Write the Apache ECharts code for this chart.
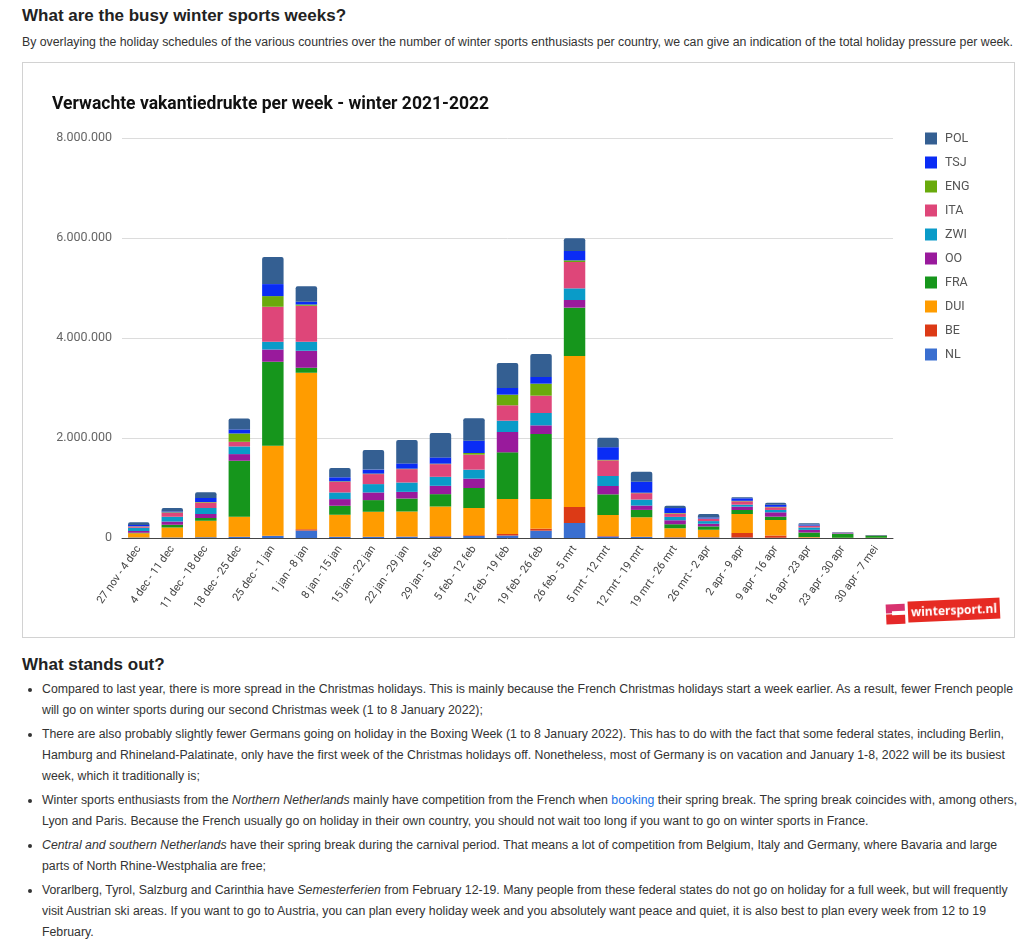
<!DOCTYPE html>
<html>
<head>
<meta charset="utf-8">
<script src="https://cdn.jsdelivr.net/npm/echarts@6/dist/echarts.min.js"></script>
<style>
  html, body { margin:0; padding:0; background:#fff; }
  body { width:1024px; height:949px; position:relative; overflow:hidden; font-family:"Liberation Sans", Arial, sans-serif; color:#333; }
  .h { position:absolute; left:22px; font-size:17px; font-weight:bold; color:#222; white-space:nowrap; line-height:20px; }
  .p { position:absolute; left:22px; font-size:12.3px; color:#333; white-space:nowrap; line-height:16px; }
  #box { position:absolute; left:22px; top:62px; width:993px; height:576px; box-sizing:border-box; border:1px solid #d2d2d2; background:#fff; }
  #chart { position:absolute; left:0; top:0; width:991px; height:574px; }
  ul { position:absolute; left:22px; top:679px; margin:0; padding:0 0 0 20px; font-size:12.3px; line-height:21px; color:#333; white-space:nowrap; }
  li { margin:0 0 3px 0; }
  a { color:#1a73e8; text-decoration:none; }
  #logo { position:absolute; left:885px; top:599px; width:118px; height:26px; transform:rotate(-2.5deg); }
  #logo .i1 { position:absolute; left:1px; top:3px; width:19px; height:9px; background:#d8336f; }
  #logo .i2 { position:absolute; left:1px; top:13px; width:19px; height:10px; background:#e5282a; }
  #logo .i3 { position:absolute; left:7px; top:10px; width:13px; height:4px; background:#fff; }
  #logo .t { position:absolute; left:23px; top:1px; width:92px; height:21px; background:#e62a22; color:#fff; font-family:"Open Sans", sans-serif; font-weight:bold; font-size:12px; line-height:21px; text-align:center; }
</style>
</head>
<body>
<div class="h" style="top:6px;">What are the busy winter sports weeks?</div>
<div class="p" style="top:34px;">By overlaying the holiday schedules of the various countries over the number of winter sports enthusiasts per country, we can give an indication of the total holiday pressure per week.</div>
<div id="box"><div id="chart"></div></div>
<div id="logo"><div class="i1"></div><div class="i2"></div><div class="i3"></div><div class="t">wintersport.nl</div></div>
<div class="h" style="top:655px;">What stands out?</div>
<ul>
<li>Compared to last year, there is more spread in the Christmas holidays. This is mainly because the French Christmas holidays start a week earlier. As a result, fewer French people<br>will go on winter sports during our second Christmas week (1 to 8 January 2022);</li>
<li>There are also probably slightly fewer Germans going on holiday in the Boxing Week (1 to 8 January 2022). This has to do with the fact that some federal states, including Berlin,<br>Hamburg and Rhineland-Palatinate, only have the first week of the Christmas holidays off. Nonetheless, most of Germany is on vacation and January 1-8, 2022 will be its busiest<br>week, which it traditionally is;</li>
<li>Winter sports enthusiasts from the <i>Northern Netherlands</i> mainly have competition from the French when <a>booking</a> their spring break. The spring break coincides with, among others,<br>Lyon and Paris. Because the French usually go on holiday in their own country, you should not wait too long if you want to go on winter sports in France.</li>
<li><i>Central and southern Netherlands</i> have their spring break during the carnival period. That means a lot of competition from Belgium, Italy and Germany, where Bavaria and large<br>parts of North Rhine-Westphalia are free;</li>
<li>Vorarlberg, Tyrol, Salzburg and Carinthia have <i>Semesterferien</i> from February 12-19. Many people from these federal states do not go on holiday for a full week, but will frequently<br>visit Austrian ski areas. If you want to go to Austria, you can plan every holiday week and you absolutely want peace and quiet, it is also best to plan every week from 12 to 19<br>February.</li>
</ul>
<script>
const weeks = ['27 nov - 4 dec','4 dec - 11 dec','11 dec - 18 dec','18 dec - 25 dec','25 dec - 1 jan','1 jan - 8 jan','8 jan - 15 jan','15 jan - 22 jan','22 jan - 29 jan','29 jan - 5 feb','5 feb - 12 feb','12 feb - 19 feb','19 feb - 26 feb','26 feb - 5 mrt','5 mrt - 12 mrt','12 mrt - 19 mrt','19 mrt - 26 mrt','26 mrt - 2 apr','2 apr - 9 apr','9 apr - 16 apr','16 apr - 23 apr','23 apr - 30 apr','30 apr - 7 mei'];

const NL  = [10000,10000,15000,20000,40000,150000,20000,20000,25000,30000,40000,50000,147000,300000,30000,20000,10000,10000,10000,5000,5000,0,0];
const BE  = [0,0,0,5000,5000,25000,5000,5000,5000,10000,15000,30000,40000,320000,10000,5000,5000,5000,90000,45000,5000,0,0];
const DUI = [85000,200000,330000,400000,1800000,3130000,440000,500000,500000,590000,545000,700000,593000,3020000,420000,390000,180000,150000,380000,310000,10000,5000,5000];
const FRA = [10000,55000,55000,1120000,1680000,100000,180000,233000,260000,247000,400000,933000,1300000,967000,413000,147000,80000,67000,80000,67000,90000,75000,45000];
const OO  = [35000,65000,80000,133000,245000,340000,133000,153000,133000,167000,187000,407000,173000,153000,167000,87000,80000,53000,67000,87000,53000,10000,5000];
const ZWI = [65000,95000,120000,153000,155000,180000,133000,167000,187000,180000,180000,227000,247000,233000,200000,120000,67000,53000,40000,47000,47000,5000,0];
const ITA = [25000,80000,110000,93000,700000,720000,213000,200000,267000,253000,300000,307000,347000,527000,313000,127000,67000,47000,67000,53000,33000,10000,0];
const ENG = [5000,10000,10000,167000,213000,25000,10000,10000,10000,10000,33000,213000,240000,33000,10000,10000,10000,5000,10000,10000,5000,0,0];
const TSJ = [25000,15000,80000,80000,240000,55000,80000,80000,105000,125000,247000,133000,133000,187000,253000,220000,100000,20000,50000,40000,20000,0,0];
const POL = [55000,70000,115000,220000,540000,310000,187000,390000,470000,487000,450000,500000,460000,253000,187000,200000,45000,70000,20000,40000,25000,10000,5000];

const seriesNames  = ['NL','BE','DUI','FRA','OO','ZWI','ITA','ENG','TSJ','POL'];
const seriesData   = [NL, BE, DUI, FRA, OO, ZWI, ITA, ENG, TSJ, POL];
const seriesColors = ['#3a6fd0','#dc3a16','#ff9c00','#16961c','#991a9c','#0a9bc8','#de4679','#69aa0c','#0a2cf5','#345f92'];
const legendOrder  = ['POL','TSJ','ENG','ITA','ZWI','OO','FRA','DUI','BE','NL'];

function fmt(v){ return String(v).replace(/\B(?=(\d{3})+(?!\d))/g, '.'); }

const chart = echarts.init(document.getElementById('chart'), null, {renderer:'canvas'});
chart.setOption({
  animation:false,
  backgroundColor:'#fff',
  title:{ text:'Verwachte vakantiedrukte per week - winter 2021-2022', left:24, top:28,
    textStyle:{ fontFamily:'Roboto', fontWeight:'bold', fontSize:17.5, color:'#111' } },
  legend:{ orient:'vertical', left:897, top:64, itemWidth:12, itemHeight:12, itemGap:11,
    icon:'rect', data:legendOrder,
    textStyle:{ fontFamily:'Roboto', fontSize:12.5, color:'#555', padding:[0,0,0,3] } },
  grid:{ left:99, right:121, top:75, bottom:99, containLabel:false },
  xAxis:{ type:'category', data:weeks,
    axisLine:{ lineStyle:{ color:'#444', width:1 } },
    axisTick:{ show:false },
    axisLabel:{ rotate:55, interval:0, margin:9, fontFamily:'Roboto', fontSize:11, color:'#444' } },
  yAxis:{ type:'value', min:0, max:8000000, interval:2000000,
    axisLine:{ show:false }, axisTick:{ show:false },
    splitLine:{ lineStyle:{ color:'#dcdcdc' } },
    axisLabel:{ formatter:fmt, margin:10, fontFamily:'Roboto', fontSize:12.5, color:'#666' } },
  series: seriesNames.map((n,i)=>({
    name:n, type:'bar', stack:'total', data:seriesData[i],
    barCategoryGap:'36%',
    itemStyle:{ color:seriesColors[i], borderRadius: n==='POL' ? [2,2,0,0] : 0 }
  }))
});
</script>
</body>
</html>
